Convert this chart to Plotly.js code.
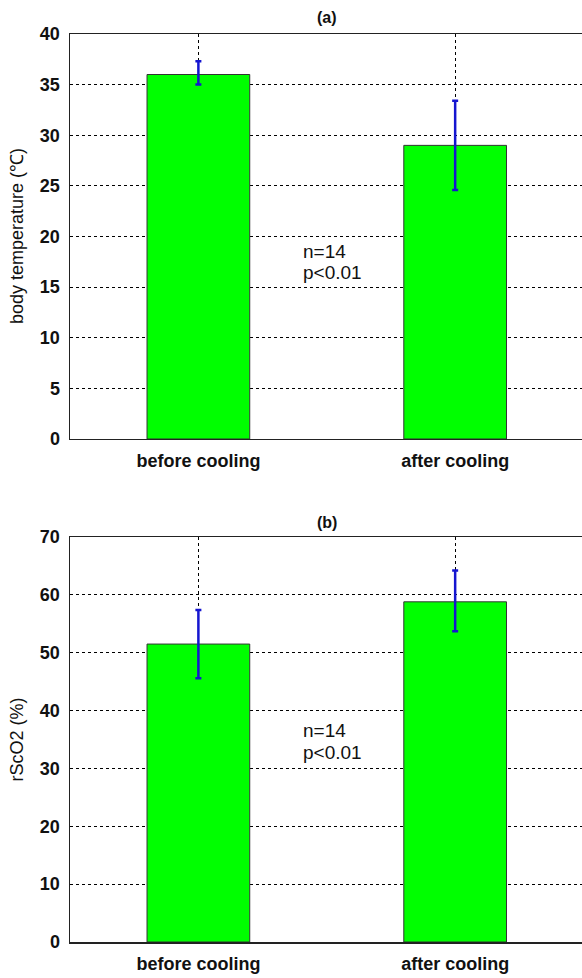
<!DOCTYPE html>
<html>
<head>
<meta charset="utf-8">
<script src="https://cdn.plot.ly/plotly-3.0.1.min.js"></script>
<style>html,body{margin:0;padding:0;background:#fff;}#chart{width:582px;height:978px;}</style>
</head>
<body>
<div id="chart"></div>
<script>
// Data
var categories = ['before cooling', 'after cooling'];
var catPos = [1, 2];
var tempMean = [36.0, 29.0];
var tempErrPlus = [1.3, 4.4];
var tempErrMinus = [1.0, 4.4];
var rsco2Mean = [51.5, 58.8];
var rsco2ErrPlus = [5.9, 5.4];
var rsco2ErrMinus = [5.9, 5.1];
var tempTicks = [0, 5, 10, 15, 20, 25, 30, 35, 40];
var rsco2Ticks = [0, 10, 20, 30, 40, 50, 60, 70];

var FONT = 'Liberation Sans, Arial, Helvetica, sans-serif';

function barTrace(y, ep, em, xa, ya) {
  return {
    type: 'bar', x: catPos, y: y, width: 0.4,
    xaxis: xa, yaxis: ya,
    marker: {color: '#00ff00', line: {color: '#333333', width: 1}},
    error_y: {type: 'data', symmetric: false, array: ep, arrayminus: em,
      color: '#1515d0', thickness: 2.5, width: 3},
    hoverinfo: 'none', showlegend: false
  };
}

var traces = [
  barTrace(tempMean, tempErrPlus, tempErrMinus, 'x', 'y'),
  barTrace(rsco2Mean, rsco2ErrPlus, rsco2ErrMinus, 'x2', 'y2')
];

function xax(anchor) {
  return {
    anchor: anchor, domain: [0, 1], range: [0.5, 2.494],
    tickmode: 'array', tickvals: catPos, ticktext: categories,
    showgrid: true, gridcolor: '#000', gridwidth: 1, griddash: '3px,3px',
    showline: true, linecolor: '#222', linewidth: 1.5, mirror: true,
    ticks: '', ticklabelstandoff: 5, zeroline: false,
    tickfont: {family: FONT, size: 18, color: '#111', weight: 'bold'}
  };
}
function yax(anchor, dom, range, ticks) {
  return {
    anchor: anchor, domain: dom, range: range,
    tickmode: 'array', tickvals: ticks,
    showgrid: true, gridcolor: '#000', gridwidth: 1, griddash: '3px,3px',
    showline: true, linecolor: '#222', linewidth: 1.5, mirror: false,
    ticks: '', ticklabelstandoff: 5, zeroline: false,
    tickfont: {family: FONT, size: 18, color: '#111', weight: 'bold'}
  };
}

var titleFont = {family: FONT, size: 18, color: '#111'};
var noteFont = {family: FONT, size: 19, color: '#111'};
var layout = {
  width: 582, height: 978,
  margin: {l: 70, r: 0, t: 34, b: 36},
  paper_bgcolor: '#fff', plot_bgcolor: '#fff',
  xaxis: xax('y'),
  yaxis: yax('x', [0.554, 1], [0, 40], tempTicks),
  xaxis2: xax('y2'),
  yaxis2: yax('x2', [0, 0.446], [0, 70], rsco2Ticks),
  annotations: [
    {text: '(a)', xref: 'paper', yref: 'paper', x: 0.501, y: 1.0187, xanchor: 'center', yanchor: 'middle', showarrow: false,
      font: {family: FONT, size: 16, color: '#111', weight: 'bold'}},
    {text: '(b)', xref: 'paper', yref: 'paper', x: 0.501, y: 0.4615, xanchor: 'center', yanchor: 'middle', showarrow: false,
      font: {family: FONT, size: 16, color: '#111', weight: 'bold'}},
    {text: 'body temperature (\u2103)', xref: 'paper', yref: 'paper', x: -0.1035, y: 0.7775,
      xanchor: 'center', yanchor: 'middle', textangle: -90, showarrow: false, font: titleFont},
    {text: 'rScO2 (%)', xref: 'paper', yref: 'paper', x: -0.1035, y: 0.223,
      xanchor: 'center', yanchor: 'middle', textangle: -90, showarrow: false, font: titleFont},
    {text: 'n=14', xref: 'x', yref: 'y', x: 1.4, y: 18.5, xanchor: 'left', yanchor: 'middle', showarrow: false, font: noteFont},
    {text: 'p<0.01', xref: 'x', yref: 'y', x: 1.4, y: 16.4, xanchor: 'left', yanchor: 'middle', showarrow: false, font: noteFont},
    {text: 'n=14', xref: 'x2', yref: 'y2', x: 1.4, y: 36.5, xanchor: 'left', yanchor: 'middle', showarrow: false, font: noteFont},
    {text: 'p<0.01', xref: 'x2', yref: 'y2', x: 1.4, y: 32.7, xanchor: 'left', yanchor: 'middle', showarrow: false, font: noteFont}
  ]
};

Plotly.newPlot('chart', traces, layout, {staticPlot: true, displayModeBar: false});
</script>
</body>
</html>
